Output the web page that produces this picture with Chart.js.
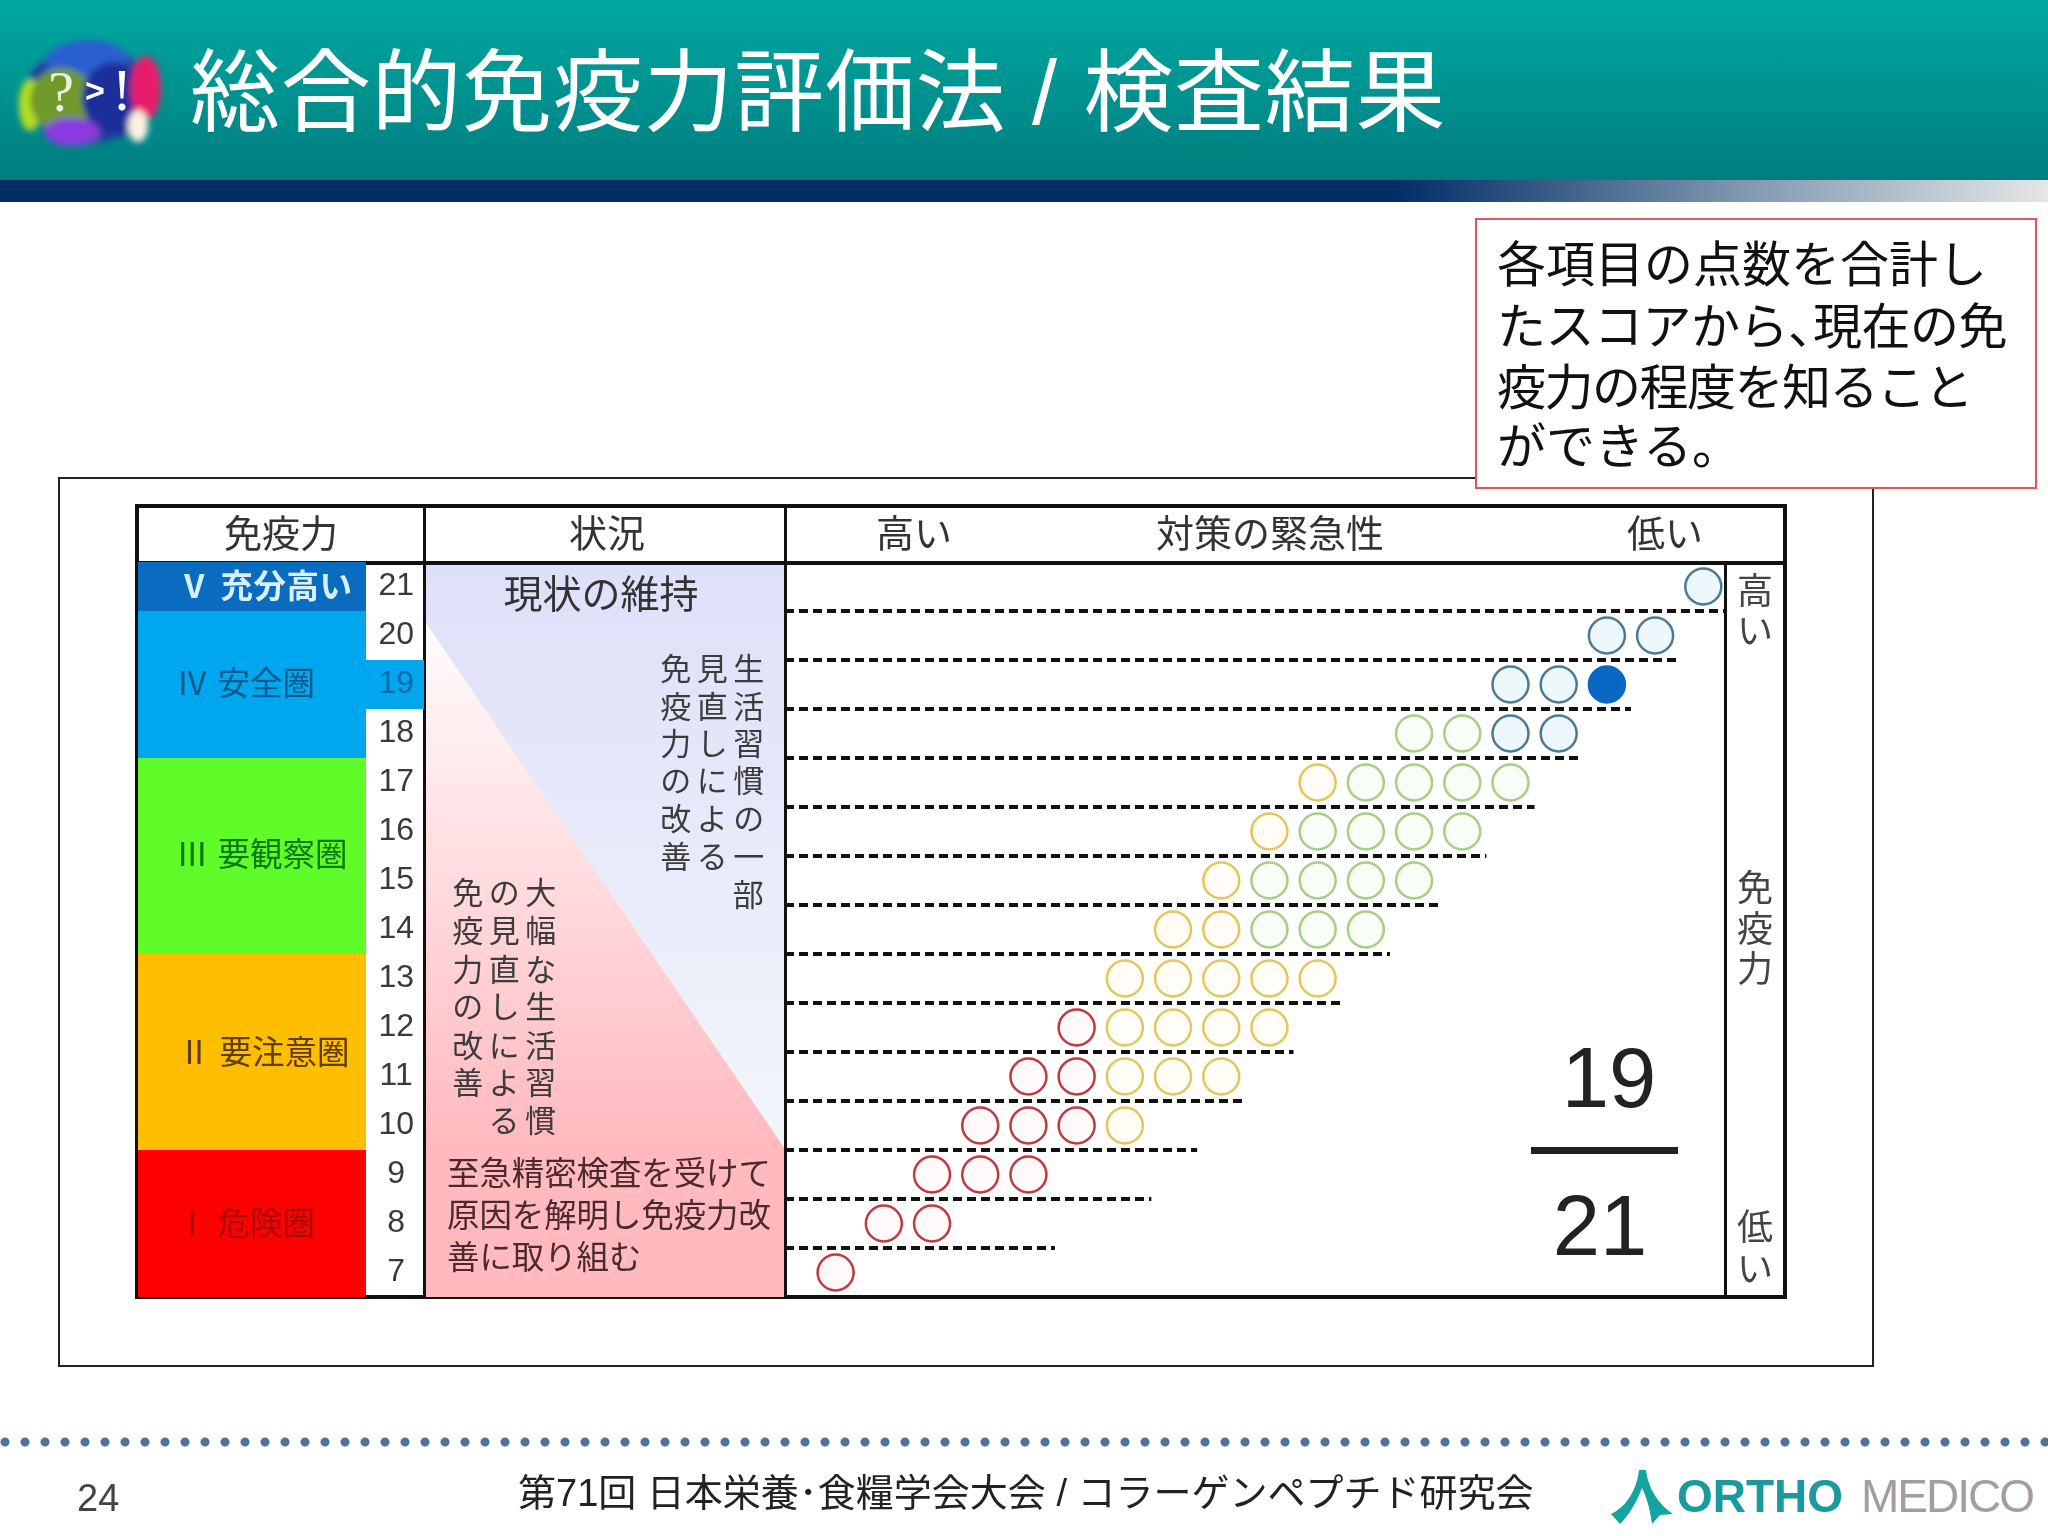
<!DOCTYPE html>
<html lang="ja">
<head>
<meta charset="utf-8">
<title>総合的免疫力評価法</title>
<style>
html, body { margin: 0; padding: 0; background: #fff; }
#page { position: relative; width: 2048px; height: 1536px; overflow: hidden; font-family: "Liberation Sans", "Noto Sans CJK JP", sans-serif; color: #333; }
#page div, #page svg { position: absolute; }
canvas { position: absolute; left: 0; top: 0; z-index: 2; }
.box { box-sizing: border-box; z-index: 1; }
.t { white-space: pre; line-height: 1; transform: translate(-50%, -50%); z-index: 3; }
.l { white-space: pre; line-height: 1; transform: translateY(-50%); z-index: 3; }
.th { font-size: 38px; color: #333; }
.side { font-size: 36px; color: #444; }
.band { font-size: 32.5px; }
.st { font-size: 31px; letter-spacing: 5.5px; color: #3c3c3c; }
.st2 { font-size: 32.4px; color: #4a2a2e; }
.note { font-size: 49px; color: #111; left: 1497px; }
.logo { font-family: "Liberation Serif", serif; }
</style>
</head>
<body>
<div id="page">
  <div class="box" style="left:0;top:0;width:2048px;height:180px;background:linear-gradient(#00a9a1,#007d7f)"></div>
  <div class="box" style="left:0;top:180px;width:2048px;height:22px;background:linear-gradient(90deg,#002d66 0,#002d66 68%,#7f97b0 85%,#e4e6e6 100%)"></div>
  <svg style="left:0;top:20px;z-index:2" width="180" height="140" viewBox="0 20 180 140">
    <defs><filter id="soft"><feGaussianBlur stdDeviation="3"/></filter></defs>
    <g filter="url(#soft)">
      <ellipse cx="90" cy="95" rx="66" ry="48" fill="#1f3f9a"/>
      <ellipse cx="30" cy="105" rx="11" ry="26" fill="#b4e020"/>
      <ellipse cx="88" cy="62" rx="42" ry="22" fill="#2a5fd0"/>
      <ellipse cx="62" cy="100" rx="32" ry="32" fill="#6f9a2a"/>
      <ellipse cx="114" cy="98" rx="32" ry="36" fill="#1f2f9a"/>
      <ellipse cx="146" cy="88" rx="15" ry="32" fill="#e81a6a"/>
      <ellipse cx="72" cy="132" rx="28" ry="14" fill="#8a3ae0"/>
      <ellipse cx="138" cy="126" rx="10" ry="16" fill="#fbf3e0"/>
    </g>
  </svg>
  <div class="t logo" style="left:61px;top:92px;font-size:58px;color:#e8f0e0;z-index:3">?</div>
  <div class="t" style="left:95px;top:90px;font-size:34px;font-weight:bold;color:#fff;z-index:3">&gt;</div>
  <div class="t logo" style="left:122px;top:90px;font-size:60px;color:#fff;z-index:3">!</div>
  <div class="l" style="left:190px;top:93px;font-size:90px;letter-spacing:.7px;color:#fff">総合的免疫力評価法 / 検査結果</div>

  <div class="box" style="left:58px;top:477px;width:1816px;height:890px;border:2px solid #222"></div>
  <div class="box" style="left:135px;top:504px;width:1652px;height:795px;border:4px solid #111;background:#fff"></div>
  <div class="box" style="left:424px;top:563px;width:361px;height:734px;background:linear-gradient(#dde0f8,#f3f5fb 80%)"></div>
  <div class="box" style="left:424px;top:563px;width:361px;height:734px;background:linear-gradient(#fff 5%,#ffb9bf 80%);clip-path:polygon(0 57px,100% 586px,100% 100%,0 100%)"></div>
  <div class="box" style="left:135px;top:561px;width:1652px;height:4px;background:#111;z-index:2"></div>
  <div class="box" style="left:423px;top:505px;width:3px;height:794px;background:#111;z-index:2"></div>
  <div class="box" style="left:784px;top:505px;width:3px;height:794px;background:#111;z-index:2"></div>
  <div class="box" style="left:1724px;top:563px;width:3px;height:736px;background:#111;z-index:2"></div>

  <div class="t th" style="left:281px;top:534px">免疫力</div>
  <div class="t th" style="left:607px;top:534px">状況</div>
  <div class="t th" style="left:914px;top:534px">高い</div>
  <div class="t th" style="left:1270px;top:534px">対策の緊急性</div>
  <div class="t th" style="left:1665px;top:534px">低い</div>

  <div class="t side" style="left:1755px;top:592px">高</div>
  <div class="t side" style="left:1755px;top:632px">い</div>
  <div class="t side" style="left:1755px;top:889px">免</div>
  <div class="t side" style="left:1755px;top:930px">疫</div>
  <div class="t side" style="left:1755px;top:970px">力</div>
  <div class="t side" style="left:1755px;top:1228px">低</div>
  <div class="t side" style="left:1755px;top:1270px">い</div>

  <div class="l band" style="left:178px;top:587px;color:#d8f0fb;font-weight:bold;letter-spacing:.5px">Ⅴ 充分高い</div>
  <div class="l band" style="left:176px;top:684px;color:#0b5a8c">Ⅳ 安全圏</div>
  <div class="l band" style="left:176px;top:855px;color:#0a7a14">Ⅲ 要観察圏</div>
  <div class="l band" style="left:178px;top:1053px;color:#5f3c00">Ⅱ 要注意圏</div>
  <div class="l band" style="left:176px;top:1224px;color:#a80808">Ⅰ 危険圏</div>

  <div class="t" style="left:601px;top:594px;font-size:39px">現状の維持</div>
  <div class="t st" style="left:715px;top:669px">免見生</div>
  <div class="t st" style="left:715px;top:707px">疫直活</div>
  <div class="t st" style="left:715px;top:744px">力し習</div>
  <div class="t st" style="left:715px;top:781px">のに慣</div>
  <div class="t st" style="left:715px;top:819px">改よの</div>
  <div class="t st" style="left:715px;top:857px">善る一</div>
  <div class="t st" style="left:751px;top:895px">部</div>
  <div class="t st" style="left:507px;top:893px">免の大</div>
  <div class="t st" style="left:507px;top:931px">疫見幅</div>
  <div class="t st" style="left:507px;top:970px">力直な</div>
  <div class="t st" style="left:507px;top:1007px">のし生</div>
  <div class="t st" style="left:507px;top:1046px">改に活</div>
  <div class="t st" style="left:507px;top:1083px">善よ習</div>
  <div class="t st" style="left:525px;top:1121px">る慣</div>
  <div class="l st2" style="left:447px;top:1174px">至急精密検査を受けて</div>
  <div class="l st2" style="left:447px;top:1216px">原因を解明し免疫力改</div>
  <div class="l st2" style="left:447px;top:1258px">善に取り組む</div>

  <div class="t" style="left:1609px;top:1077px;font-size:85px;color:#222">19</div>
  <div class="box" style="left:1531px;top:1147px;width:147px;height:7px;background:#222;z-index:3"></div>
  <div class="t" style="left:1600px;top:1225px;font-size:85px;color:#222">21</div>

  <div class="box" style="left:1475px;top:218px;width:562px;height:271px;border:2px solid #e4545c;background:#fff;z-index:4"></div>
  <div class="l note" style="top:265px;z-index:5">各項目の点数を合計し</div>
  <div class="l note" style="top:327px;z-index:5;letter-spacing:-.5px">たスコアから<span style="letter-spacing:-24px">、</span>現在の免</div>
  <div class="l note" style="top:388px;z-index:5;letter-spacing:-1.5px">疫力の程度を知ること</div>
  <div class="l note" style="top:447px;z-index:5">ができる。</div>

  <div class="box" style="left:0;top:1437px;width:2048px;height:10px;background:radial-gradient(circle at 5px 5px,#4f7299 4px,transparent 5px) 0 0/20px 10px repeat-x"></div>
  <div class="l" style="left:77px;top:1498px;font-size:38px;color:#444">24</div>
  <div class="l" style="left:518px;top:1493px;font-size:38px;color:#222">第71回 日本栄養･食糧学会大会 / コラーゲンペプチド研究会</div>
  <svg style="left:1608px;top:1468px;z-index:3" width="66" height="58" viewBox="0 0 66 58">
    <path d="M31 2 L38 2 C40 20 50 36 65 46 L52 47 L44 56 C42 40 38 28 34 20 C30 30 24 44 12 56 L3 46 C20 38 29 20 31 2 Z" fill="#12a5a0"/>
  </svg>
  <div class="l" style="left:1677px;top:1496px;font-size:46px;font-weight:bold;color:#1a9a9c">ORTHO</div>
  <div class="l" style="left:1861px;top:1496px;font-size:46px;color:#a59d9d;letter-spacing:-2px">MEDICO</div>

  <canvas id="chart" width="2048" height="1536"></canvas>
</div>

<script src="https://cdn.jsdelivr.net/npm/chart.js@4.4.9/dist/chart.umd.min.js"></script>
<script>
// score rows, top to bottom
const scores = [21, 20, 19, 18, 17, 16, 15, 14, 13, 12, 11, 10, 9, 8, 7];
const currentScore = 19;

// circles: score row + urgency column (1 = most urgent, left)
const blueRows = [21, 20, 20, 19, 19, 18, 18];
const blueCols = [19, 17, 18, 15, 16, 15, 16];
const currentRows = [19];
const currentCols = [17];
const greenRows = [18, 18, 17, 17, 17, 17, 16, 16, 16, 16, 15, 15, 15, 15, 14, 14, 14];
const greenCols = [13, 14, 12, 13, 14, 15, 11, 12, 13, 14, 10, 11, 12, 13, 10, 11, 12];
const yellowRows = [17, 16, 15, 14, 14, 13, 13, 13, 13, 13, 12, 12, 12, 12, 11, 11, 11, 10];
const yellowCols = [11, 10, 9, 8, 9, 7, 8, 9, 10, 11, 7, 8, 9, 10, 7, 8, 9, 7];
const redRows = [12, 11, 11, 10, 10, 10, 9, 9, 9, 8, 8, 7];
const redCols = [6, 5, 6, 4, 5, 6, 3, 4, 5, 2, 3, 1];

// dashed row separators and where each one stops
const sepScores = [20.5, 19.5, 18.5, 17.5, 16.5, 15.5, 14.5, 13.5, 12.5, 11.5, 10.5, 9.5, 8.5, 7.5];
const sepEnds = [19.45, 18.5, 17.5, 16.5, 15.5, 14.5, 13.5, 12.5, 11.5, 10.5, 9.5, 8.5, 7.55, 5.55];

// immunity bands on the score axis
const bandLow = [20.5, 17.5, 13.5, 9.5, 6.5];
const bandHigh = [21.5, 20.5, 17.5, 13.5, 9.5];
const bandColors = ['#0a6cc0', '#00a6ee', '#60fc2a', '#ffbf00', '#ff0000'];

const toPoints = (cols, rows) => cols.map((x, i) => ({ x, y: rows[i] }));

const circles = (cols, rows, stroke, fill) => ({
    type: 'scatter',
    data: toPoints(cols, rows),
    order: 1,
    clip: false,
    pointRadius: 18,
    pointBorderWidth: 2.5,
    pointBorderColor: stroke,
    pointBackgroundColor: fill
});

const separators = sepScores.map((y, i) => ({
    type: 'line',
    data: [{ x: -0.05, y }, { x: sepEnds[i], y }],
    order: 0,
    borderColor: '#111',
    borderWidth: 4,
    borderDash: [9, 5],
    pointRadius: 0
}));

// colour bands left of the number column, plus the highlighted score row.
// beforeDraw so the tick labels land on top of them
const bandPlugin = {
    id: 'bands',
    beforeDraw(chart) {
        const { ctx, scales: { y } } = chart;
        ctx.save();
        bandColors.forEach((color, i) => {
            const top = y.getPixelForValue(bandHigh[i]);
            ctx.fillStyle = color;
            ctx.fillRect(138, top, 228, y.getPixelForValue(bandLow[i]) - top);
        });
        const top = y.getPixelForValue(currentScore + 0.5);
        ctx.fillStyle = bandColors[1];
        ctx.fillRect(366, top, 58, y.getPixelForValue(currentScore - 0.5) - top);
        ctx.restore();
    }
};

new Chart(document.getElementById('chart').getContext('2d'), {
    data: {
        datasets: [
            ...separators,
            circles(blueCols, blueRows, '#4b7a98', 'rgba(214, 240, 250, 0.45)'),
            circles(currentCols, currentRows, '#0a68c4', '#0a68c4'),
            circles(greenCols, greenRows, '#a4cf84', 'rgba(232, 248, 226, 0.3)'),
            circles(yellowCols, yellowRows, '#e6c65c', 'rgba(255, 250, 225, 0.3)'),
            circles(redCols, redRows, '#c2393f', 'rgba(255, 240, 240, 0.3)')
        ]
    },
    options: {
        responsive: false,
        animation: false,
        devicePixelRatio: 1,
        layout: { padding: { left: 0, top: 562, right: 323, bottom: 239 } },
        plugins: { legend: { display: false }, tooltip: { enabled: false } },
        scales: {
            x: { type: 'linear', min: -0.05, max: 19.45, display: false },
            y: {
                type: 'linear',
                min: 6.5,
                max: 21.5,
                grid: { display: false },
                border: { display: false },
                afterBuildTicks: axis => { axis.ticks = scores.map(value => ({ value })); },
                // the big tick padding would otherwise eat into the plot height
                afterFit: axis => {
                    axis.width = 785;
                    axis.paddingTop = 0;
                    axis.paddingBottom = 0;
                },
                ticks: {
                    autoSkip: false,
                    padding: 363,
                    crossAlign: 'center',
                    font: { family: "'Liberation Sans', sans-serif", size: 32 },
                    color: ctx => (ctx.tick && ctx.tick.value === currentScore ? '#0e6ba8' : '#3a3a3a')
                }
            }
        }
    },
    plugins: [bandPlugin]
});
</script>
</body>
</html>
